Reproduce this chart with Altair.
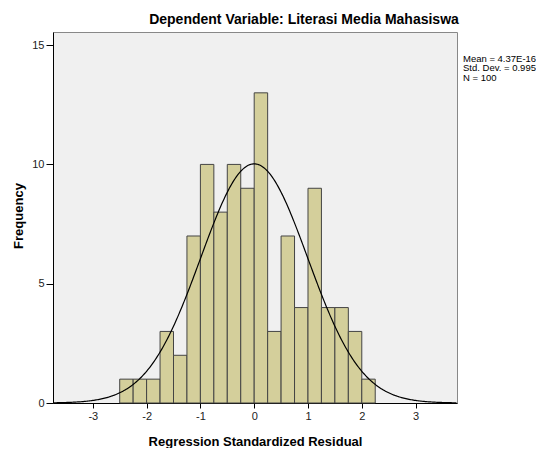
import altair as alt
import pandas as pd

# Histogram bins (lower / upper edges) and counts
bin_start = [-2.5, -2.25, -2.0, -1.75, -1.5, -1.25, -1.0, -0.75, -0.5, -0.25,
             0.0, 0.25, 0.5, 0.75, 1.0, 1.25, 1.5, 1.75, 2.0]
bin_end = [-2.25, -2.0, -1.75, -1.5, -1.25, -1.0, -0.75, -0.5, -0.25, 0.0,
           0.25, 0.5, 0.75, 1.0, 1.25, 1.5, 1.75, 2.0, 2.25]
counts = [1, 1, 1, 3, 2, 7, 10, 8, 10, 9, 13, 3, 7, 4, 9, 4, 4, 3, 1]

# Summary statistics shown in the chart
mean_val = 4.37e-16
sd_val = 0.995
n_val = 100
bin_width = 0.25
stats_lines = ["Mean = 4.37E-16", "Std. Dev. = 0.995", "N = 100"]

x_ticks = [-3, -2, -1, 0, 1, 2, 3]
y_ticks = [0, 5, 10, 15]
x_domain = [-3.74, 3.77]
y_domain = [0, 15.55]

title_text = "Dependent Variable: Literasi Media Mahasiswa"
x_title = "Regression Standardized Residual"
y_title = "Frequency"

FONT = "Liberation Sans"
W, H = 404, 371

df = pd.DataFrame({"start": bin_start, "end": bin_end, "count": counts})

xscale = alt.Scale(domain=x_domain, nice=False, zero=False)
yscale = alt.Scale(domain=y_domain, nice=False)

x_axis = alt.Axis(values=x_ticks, title=x_title, grid=False, tickSize=5,
                  labelExpr="'' + datum.value",
                  labelFont=FONT, labelFontSize=11, labelColor="#222",
                  labelPadding=2, domainColor="#000", tickColor="#000",
                  titleFont=FONT, titleFontSize=13, titleFontWeight="bold",
                  titleColor="#000", titleX=W / 2, titleY=42,
                  titleAlign="center", titleBaseline="alphabetic")
y_axis = alt.Axis(values=y_ticks, title=y_title, grid=False, tickSize=7,
                  labelExpr="'' + datum.value",
                  labelFont=FONT, labelFontSize=11, labelColor="#222",
                  labelPadding=2, domainColor="#000", tickColor="#000",
                  titleFont=FONT, titleFontSize=13, titleFontWeight="bold",
                  titleColor="#000", titleX=-35, titleY=H / 2 - 2,
                  titleAngle=-90, titleAlign="center", titleBaseline="middle")

bars = alt.Chart(df).mark_rect(
    fill="#D4CF9B", stroke="#444", strokeWidth=1
).encode(
    x=alt.X("start:Q", scale=xscale, axis=x_axis),
    x2="end:Q",
    y=alt.Y("count:Q", scale=yscale, axis=y_axis),
    y2=alt.datum(0),
)

curve = alt.Chart(alt.sequence(-3.74, 3.78, 0.02, as_="x")).transform_calculate(
    y=f"{n_val}*{bin_width}*exp(-0.5*pow((datum.x-{mean_val})/{sd_val},2))/({sd_val}*sqrt(2*PI))"
).mark_line(color="#000", strokeWidth=1.2, clip=True).encode(
    x=alt.X("x:Q", scale=xscale),
    y=alt.Y("y:Q", scale=yscale),
)

title = alt.Chart(pd.DataFrame({"t": [title_text]})).mark_text(
    font=FONT, fontSize=14, fontWeight="bold", align="center",
    baseline="alphabetic", color="#000"
).encode(text="t:N", x=alt.value(251), y=alt.value(-8))

stats = alt.Chart(pd.DataFrame({"t": ["\n".join(stats_lines)]})).mark_text(
    font=FONT, fontSize=9.5, align="left", baseline="alphabetic",
    color="#000", lineBreak="\n", lineHeight=9.5
).encode(text="t:N", x=alt.value(410), y=alt.value(29.5))

chart = alt.layer(bars, curve, title, stats).properties(
    width=W, height=H,
    autosize=alt.AutoSizeParams(type="none"),
    padding={"left": 45, "top": 24, "right": 79, "bottom": 45},
    background="#ffffff",
).configure_view(
    fill="#F0F0F0", stroke="#888", strokeWidth=1
)

chart.save("out.html", embed_options={"renderer": "svg", "actions": False})
